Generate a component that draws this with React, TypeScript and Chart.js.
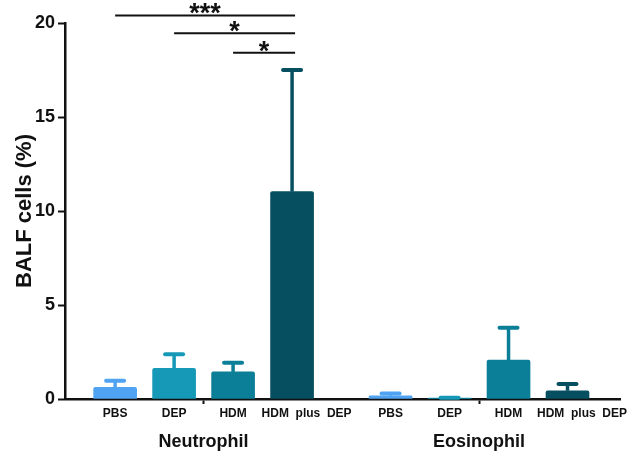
import React, { useEffect, useRef } from "react";
import { Chart, registerables } from "chart.js";

Chart.register(...registerables);

const categories = ["PBS", "DEP", "HDM", "HDM  plus  DEP"];
const groups = ["Neutrophil", "Eosinophil"];
const neutrophilMean = [0.62, 1.63, 1.44, 11.03];
const neutrophilSem = [0.35, 0.75, 0.49, 6.47];
const eosinophilMean = [0.17, 0.05, 2.07, 0.44];
const eosinophilSem = [0.12, 0.02, 1.72, 0.36];
const barColors = ["#4fa3f2", "#1699b6", "#0b7f97", "#064f60"];
const groupGap = 0.67;
const yTicks = [0, 5, 10, 15, 20];
const comparisons = [
  { from: 0, to: 3, label: "***", y: 20.4 },
  { from: 1, to: 3, label: "*", y: 19.45 },
  { from: 2, to: 3, label: "*", y: 18.42 },
];

const FONT = 'Arial, "Liberation Sans", sans-serif';
const BAR_W = 43;

const means = [neutrophilMean, eosinophilMean];
const sems = [neutrophilSem, eosinophilSem];
const positions: number[] = [];
const values: number[] = [];
const errors: number[] = [];
const colors: string[] = [];
const labels: string[] = [];
groups.forEach((_, g) => {
  categories.forEach((c, i) => {
    positions.push(g * (categories.length + groupGap) + i + 1);
    values.push(means[g][i]);
    errors.push(sems[g][i]);
    colors.push(barColors[i]);
    labels.push(c);
  });
});
const groupMids = groups.map((_, g) => {
  const s = g * categories.length;
  return (positions[s] + positions[s + categories.length - 1]) / 2;
});

const overlay = {
  id: "overlay",
  afterDatasetsDraw(chart: any) {
    const ctx = chart.ctx;
    const xs = chart.scales.x;
    const ys = chart.scales.y;
    ctx.save();
    // error bars
    positions.forEach((p, i) => {
      const x = xs.getPixelForValue(p);
      const yTop = ys.getPixelForValue(values[i]);
      const yErr = ys.getPixelForValue(values[i] + errors[i]);
      ctx.strokeStyle = colors[i];
      ctx.lineCap = "butt";
      ctx.lineWidth = 3.5;
      ctx.beginPath();
      ctx.moveTo(x, yTop);
      ctx.lineTo(x, yErr);
      ctx.stroke();
      ctx.lineCap = "round";
      ctx.lineWidth = 4;
      ctx.beginPath();
      ctx.moveTo(x - 9, yErr);
      ctx.lineTo(x + 9, yErr);
      ctx.stroke();
    });
    // category labels
    ctx.fillStyle = "#111";
    ctx.font = `bold 12px ${FONT}`;
    ctx.textBaseline = "middle";
    const ly = xs.top + 15;
    positions.forEach((p, i) => {
      const x = xs.getPixelForValue(p);
      const w = ctx.measureText(labels[i]).width;
      if (w > BAR_W) {
        ctx.textAlign = "left";
        ctx.fillText(labels[i], x - BAR_W / 2 - 9, ly);
      } else {
        ctx.textAlign = "center";
        ctx.fillText(labels[i], x, ly);
      }
    });
    // significance
    ctx.strokeStyle = "#111";
    ctx.lineWidth = 2;
    ctx.lineCap = "butt";
    ctx.font = `bold 27px ${FONT}`;
    ctx.textAlign = "center";
    ctx.textBaseline = "alphabetic";
    comparisons.forEach((c) => {
      const x1 = xs.getPixelForValue(positions[c.from]);
      const x2 = xs.getPixelForValue(positions[c.to]) + 3;
      const y = ys.getPixelForValue(c.y);
      ctx.beginPath();
      ctx.moveTo(x1, y);
      ctx.lineTo(x2, y);
      ctx.stroke();
      const m = ctx.measureText(c.label);
      const desc = m.actualBoundingBoxDescent || -10;
      ctx.fillText(c.label, (x1 + x2) / 2, y - 1 - desc);
    });
    ctx.restore();
  },
};

export default function App() {
  const ref = useRef<HTMLCanvasElement>(null);
  useEffect(() => {
    if (!ref.current) return;
    const chart = new Chart(ref.current, {
      type: "bar",
      data: {
        datasets: [
          {
            data: positions.map((p, i) => ({ x: p, y: values[i] })),
            backgroundColor: colors,
            barThickness: BAR_W,
            borderRadius: 2,
            borderSkipped: "start",
          },
        ],
      },
      options: {
        animation: false,
        responsive: true,
        maintainAspectRatio: false,
        layout: { padding: { top: 23, right: 17, left: 0, bottom: 0 } },
        plugins: { legend: { display: false }, tooltip: { enabled: false } },
        scales: {
          x: {
            type: "linear",
            offset: false,
            min: 0.15,
            max: 9.56,
            afterBuildTicks: (axis: any) => {
              axis.ticks = groupMids.map((v) => ({ value: v }));
            },
            afterFit: (axis: any) => {
              axis.height = 58;
            },
            ticks: {
              autoSkip: false,
              maxRotation: 0,
              padding: 27,
              color: "#111",
              font: { family: FONT, size: 18, weight: "bold" },
              callback: (v: any) => {
                const idx = groupMids.findIndex((m) => Math.abs(m - v) < 1e-6);
                return idx >= 0 ? groups[idx] : "";
              },
            },
            grid: {
              offset: false,
              drawOnChartArea: false,
              drawTicks: true,
              tickLength: 5,
              tickColor: "#111",
              tickWidth: 2,
            },
            border: { color: "#111", width: 2.5 },
          },
          y: {
            min: 0,
            max: 20,
            afterBuildTicks: (axis: any) => {
              axis.ticks = yTicks.map((v) => ({ value: v }));
            },
            afterFit: (axis: any) => {
              axis.width = 65;
            },
            ticks: {
              padding: 3,
              color: "#111",
              font: { family: FONT, size: 18, weight: "bold" },
            },
            grid: {
              drawOnChartArea: false,
              drawTicks: true,
              tickLength: 7,
              tickColor: "#111",
              tickWidth: 2,
            },
            border: { color: "#111", width: 2.5 },
            title: {
              display: true,
              text: "BALF cells (%)",
              color: "#111",
              font: { family: FONT, size: 22, weight: "bold" },
              padding: { top: 12, bottom: 0 },
            },
          },
        },
      },
      plugins: [overlay],
    } as any);
    return () => chart.destroy();
  }, []);
  return (
    <div style={{ position: "fixed", left: 0, top: 0, width: 637, height: 457, background: "#fff" }}>
      <canvas ref={ref} />
    </div>
  );
}
